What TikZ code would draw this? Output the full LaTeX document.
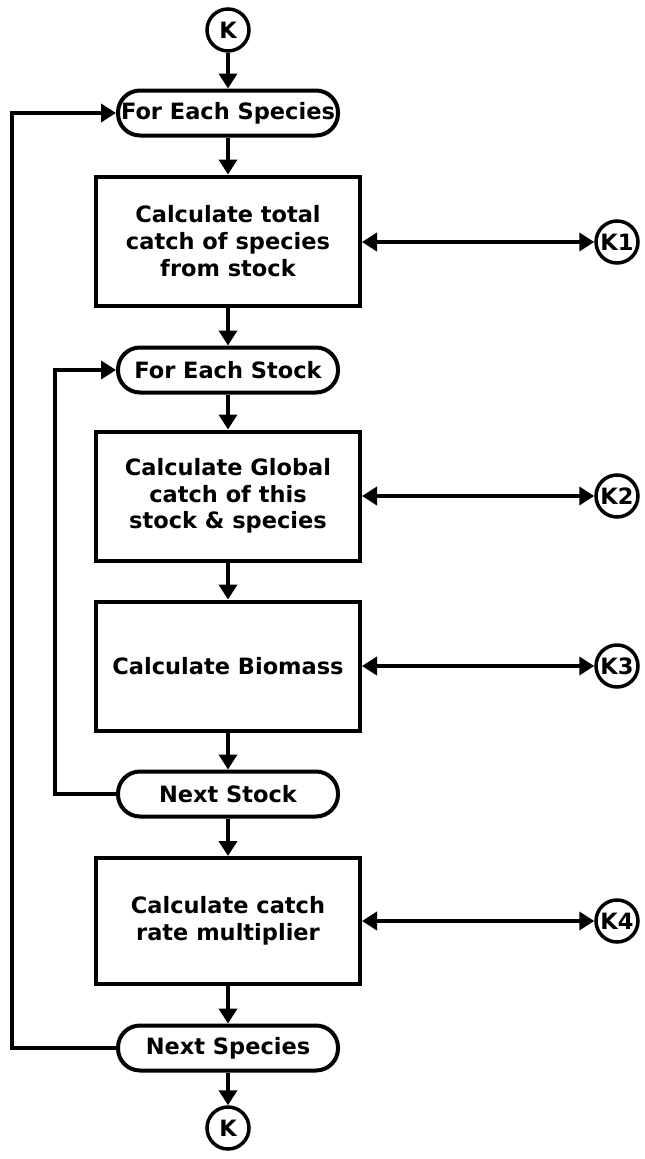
\documentclass[tikz,border=0pt]{standalone}
\usepackage{fontspec}
\setmainfont{DejaVu Sans}
\usetikzlibrary{arrows.meta}
\begin{document}
\begin{tikzpicture}[x=1pt,y=-1pt,
  every node/.style={font=\bfseries\fontsize{22.5}{26.7}\selectfont, align=center, inner sep=0pt},
  proc/.style={draw, line width=4pt, minimum width=264pt, minimum height=129pt},
  term/.style={draw, line width=4pt, rounded corners=22pt, minimum width=220pt, minimum height=45pt},
  conn/.style={draw, circle, line width=3.5pt, minimum size=42pt},
  flow/.style={line width=4pt, -{Triangle[length=15pt,width=18pt]}},
  both/.style={line width=4pt, {Triangle[length=15pt,width=18pt]}-{Triangle[length=15pt,width=18pt]}}
]
\useasboundingbox (0,0) rectangle (645,1159);

% main column
\node[conn] (ktop) at (228,30) {K};
\node[term] (fes) at (228,113) {For Each Species};
\node[proc] (b1) at (228,241) {Calculate total\\catch of species\\from stock};
\node[term] (fst) at (228,370) {For Each Stock};
\node[proc] (b2) at (228,496) {Calculate Global\\catch of this\\stock \& species};
\node[proc] (b3) at (228,666) {Calculate Biomass};
\node[term] (nst) at (228,794) {Next Stock};
\node[proc, minimum height=126pt] (b4) at (228,921) {Calculate catch\\rate multiplier};
\node[term] (nsp) at (228,1048) {Next Species};
\node[conn] (kbot) at (228,1128) {K};

% side connectors
\node[conn] (k1) at (617,242) {K1};
\node[conn] (k2) at (617,496) {K2};
\node[conn] (k3) at (617,666) {K3};
\node[conn] (k4) at (617,921) {K4};

% loop rails
\coordinate (outer) at (12,0);
\coordinate (inner) at (55,0);

% flow down the column
\draw[flow] (ktop) -- (fes);
\draw[flow] (fes) -- (b1);
\draw[flow] (b1) -- (fst);
\draw[flow] (fst) -- (b2);
\draw[flow] (b2) -- (b3);
\draw[flow] (b3) -- (nst);
\draw[flow] (nst) -- (b4);
\draw[flow] (b4) -- (nsp);
\draw[flow] (nsp) -- (kbot);

% links to the side connectors
\draw[both] (b1.east |- k1) -- (k1);
\draw[both] (b2.east |- k2) -- (k2);
\draw[both] (b3.east |- k3) -- (k3);
\draw[both] (b4.east |- k4) -- (k4);

% loops back
\draw[flow] (nst.west) -- (nst.west -| inner) |- (fst.west);
\draw[flow] (nsp.west) -- (nsp.west -| outer) |- (fes.west);
\end{tikzpicture}
\end{document}
